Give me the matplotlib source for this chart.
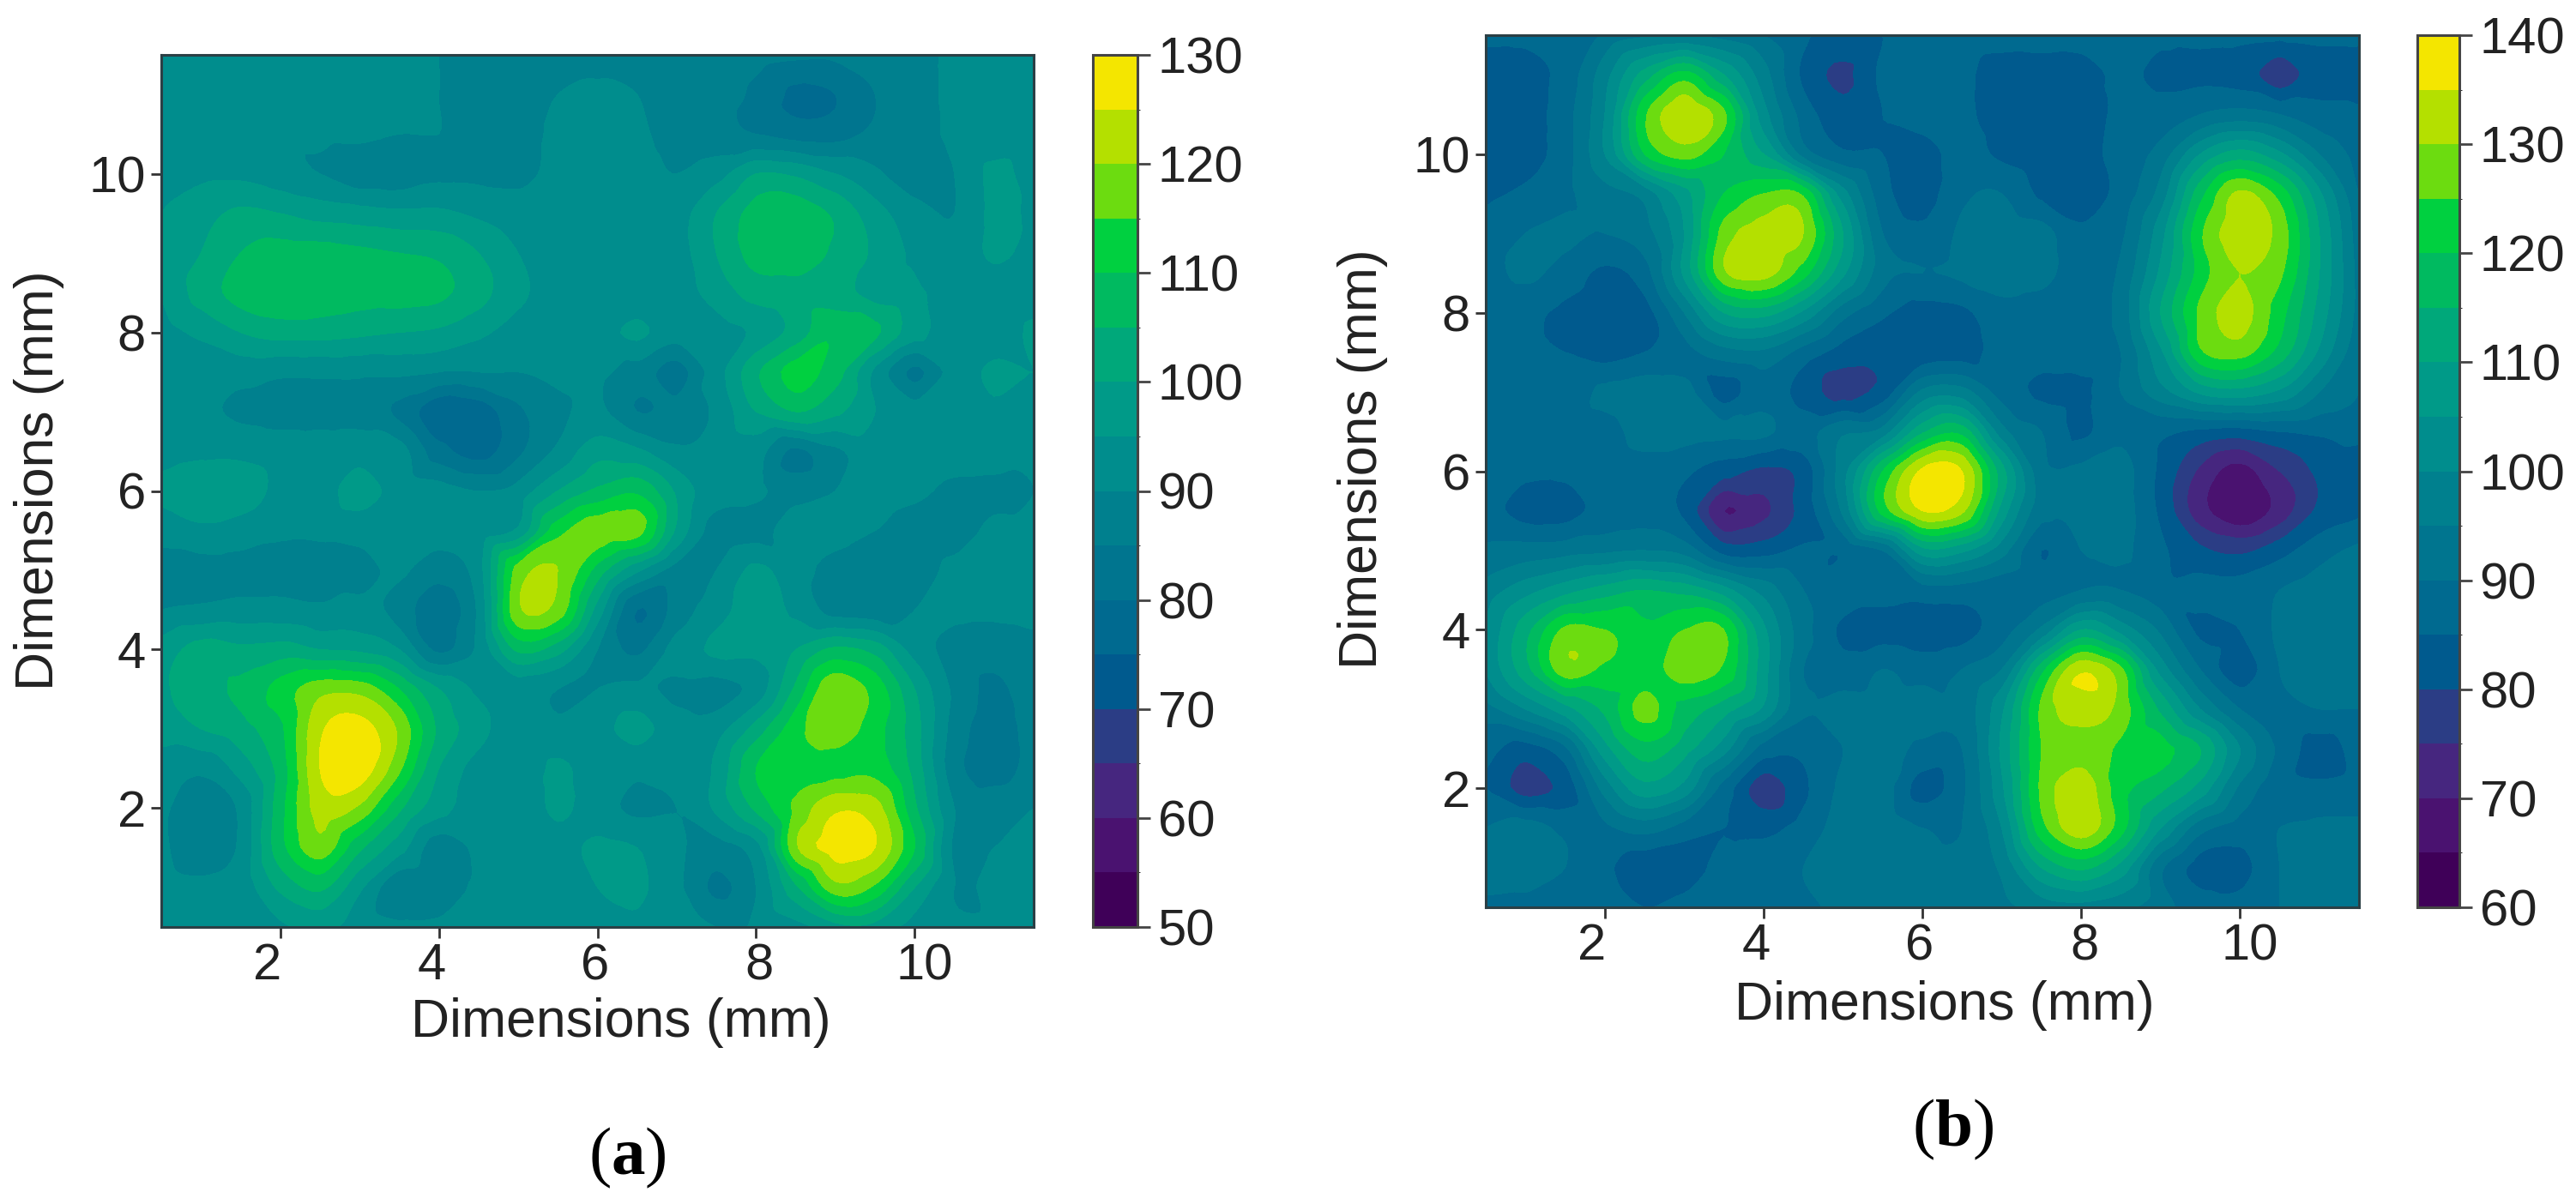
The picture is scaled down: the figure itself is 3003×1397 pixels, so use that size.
import numpy as np
import matplotlib
matplotlib.use("Agg")
import matplotlib.pyplot as plt
import matplotlib.tri as mtri
from matplotlib.colors import ListedColormap, BoundaryNorm
from matplotlib.transforms import ScaledTranslation

plt.rcParams['font.family'] = ['Liberation Sans', 'DejaVu Sans']
plt.rcParams['mathtext.fontset'] = 'custom'
plt.rcParams['mathtext.bf'] = 'Liberation Serif:bold'
plt.rcParams['mathtext.rm'] = 'Liberation Serif'

grid_mm = [0.5, 1, 1.5, 2, 2.5, 3, 3.5, 4, 4.5, 5, 5.5, 6, 6.5, 7, 7.5, 8, 8.5, 9, 9.5, 10, 10.5, 11, 11.5]
band_colors = ['#3f0058', '#4a1270', '#46267f', '#2b3d85', '#005a8e', '#006a90', '#00758f', '#00808e',
               '#008d8d', '#009a88', '#00a87a', '#00ba60', '#00d040', '#6cdc10', '#b4e000', '#f4e600']
levels_a = list(range(50, 135, 5))
levels_b = list(range(60, 145, 5))
ticks_a = [50, 60, 70, 80, 90, 100, 110, 120, 130]
ticks_b = [60, 70, 80, 90, 100, 110, 120, 130, 140]
axis_ticks = [2, 4, 6, 8, 10]
axis_label = 'Dimensions (mm)'

# rows run from y = 11.5 (first) down to y = 0.5 (last)
values_a = [
 [91,91,91,91,91,91,91,90,89,88,88,88,88,88,88,87,86,86,87,88,91,91,91],
 [91,91,91,91,91,91,91,90,88,88,90,91,90,88,87,84,79,80,85,88,91,91,91],
 [92,92,92,91,91,91,90,90,88,88,91,92,91,88,87,85,83,83,86,88,91,92,92],
 [94,94,94,92,90,87,87,89,89,89,91,92,92,90,93,100,99,95,91,87,90,96,93],
 [95,98,101,100,98,97,96,96,94,92,92,92,92,93,100,107,108,104,97,92,90,96,94],
 [95,100,105,107,107,106,105,104,100,95,93,92,92,93,100,107,108,104,99,94,91,96,93],
 [95,102,107,109,108,107,107,106,102,96,93,91,91,93,97,102,103,102,98,96,93,92,92],
 [93,96,100,102,102,101,100,99,96,93,92,93,96,92,93,96,102,109,106,97,92,92,96][:23],
 [92,92,92,91,91,91,91,90,90,90,91,91,88,83,93,104,112,107,94,84,92,96,95],
 [92,91,89,88,88,88,84,76,77,84,89,91,85,87,91,100,105,101,95,92,93,94,94],
 [93,94,94,93,93,93,92,82,78,84,91,98,96,91,92,92,84,89,93,93,92,92,91],
 [96,98,97,94,93,97,93,92,90,92,100,106,109,99,92,91,88,90,92,91,89,89,90],
 [92,94,93,91,91,92,92,92,92,96,113,118,117,99,88,88,93,92,90,88,88,91,91],
 [88,88,88,88,88,88,91,87,93,117,120,108,96,88,90,96,92,88,86,88,91,92,92],
 [90,91,92,92,91,92,88,82,91,119,118,98,80,87,93,97,94,88,87,90,91,91,92],
 [97,102,101,102,100,99,95,84,91,106,102,90,84,92,96,96,100,106,103,93,88,87,88],
 [99,103,106,112,118,118,110,100,94,92,90,90,91,89,88,92,106,119,113,100,89,84,88],
 [97,100,103,109,124,127,119,104,97,91,91,93,97,92,93,102,113,118,112,102,88,83,87],
 [93,91,97,107,125,128,116,100,93,91,96,92,91,91,96,110,112,113,113,103,87,83,87],
 [91,87,91,108,122,119,106,97,92,91,96,92,89,90,96,106,116,124,122,106,90,88,90],
 [91,87,91,108,118,106,97,87,91,92,93,96,95,91,88,93,119,127,125,110,89,90,91],
 [92,91,92,101,106,96,86,87,91,92,92,95,96,91,84,90,104,118,114,100,90,91,91],
 [92,92,92,94,96,93,91,91,92,92,92,93,94,92,90,91,93,98,98,93,91,91,92],
]
values_b = [
 [86,86,86,91,94,95,93,90,86,84,85,87,87,87,87,87,87,86,86,86,86,86,86],
 [83,83,87,98,112,122,110,97,84,79,86,87,86,83,83,83,86,84,84,83,77,83,83],
 [83,83,88,100,124,134,126,102,88,82,85,87,86,83,82,83,86,87,90,92,90,87,86],
 [83,83,88,100,120,127,120,110,93,86,85,83,87,84,82,83,87,92,105,112,106,95,88],
 [84,86,89,93,97,108,120,125,124,102,87,83,89,90,84,82,87,97,118,131,123,106,90],
 [87,90,91,90,93,105,127,132,130,110,90,86,91,93,92,86,89,103,124,133,128,110,92],
 [88,91,88,84,88,106,129,132,122,106,92,90,91,93,92,87,91,106,122,130,126,110,93],
 [86,86,84,82,83,95,110,112,104,92,86,83,84,88,87,87,92,110,126,132,122,108,93],
 [86,86,85,83,85,88,93,94,88,83,82,82,83,87,87,87,90,104,124,127,118,104,91],
 [87,87,87,91,93,92,83,88,83,78,82,96,97,88,84,84,90,98,106,108,104,95,90],
 [86,87,87,88,92,92,91,91,88,94,97,114,118,97,90,84,89,86,84,83,85,86,87],
 [87,86,86,87,88,86,82,79,82,98,120,136,135,112,92,91,92,84,74,68,75,81,82],
 [87,83,83,87,88,84,70,74,82,96,122,135,131,108,92,91,92,84,72,66,72,81,84],
 [91,92,93,94,95,93,83,83,86,86,90,108,106,97,85,90,91,86,81,79,83,88,91],
 [97,103,108,112,115,113,107,98,90,88,87,88,88,87,88,90,90,87,87,87,90,92,92],
 [100,113,126,125,121,125,125,106,92,84,83,82,83,88,96,110,103,94,84,85,91,93,92],
 [100,113,128,124,122,128,124,107,90,87,90,88,90,95,118,134,126,103,90,82,90,93,92],
 [93,100,108,116,127,118,112,104,91,92,92,92,92,104,126,132,128,114,100,90,89,90,90],
 [87,83,89,108,118,112,102,88,86,90,92,89,90,106,125,128,124,122,115,100,89,83,87],
 [85,78,82,97,108,103,88,77,84,91,92,83,89,104,126,133,122,116,108,94,87,86,87],
 [90,92,89,89,92,88,85,84,87,92,93,90,90,100,123,133,122,105,92,88,90,91,91],
 [92,93,90,86,82,82,87,87,90,92,93,92,92,96,110,116,108,91,83,83,90,92,92],
 [89,88,87,87,85,87,87,87,89,91,92,92,92,94,97,98,96,92,88,87,90,92,92],
]

W, H = 3003, 1397
fig = plt.figure(figsize=(W / 100, H / 100), dpi=100, facecolor='white')
SPINE = '#2b3f45'


def px_axes(x0, y0, x1, y1):
    return fig.add_axes([x0 / W, 1 - y1 / H, (x1 - x0) / W, (y1 - y0) / H])


def panel(values, levels, ticks, ax_box, cb_box, xlab, ylab, cap, cap_pos):
    ax = px_axes(*ax_box)
    cax = px_axes(*cb_box)
    z = np.array(values, dtype=float)[::-1]
    X, Y = np.meshgrid(grid_mm, grid_mm)
    tri = mtri.Triangulation(X.ravel(), Y.ravel())
    refiner = mtri.UniformTriRefiner(tri)
    interp = mtri.CubicTriInterpolator(tri, z.ravel(), kind='geom')
    rt, rz = refiner.refine_field(z.ravel(), triinterpolator=interp, subdiv=3)
    rz = np.clip(rz, levels[0] + 0.01, levels[-1] - 0.01)
    cmap = ListedColormap(band_colors)
    norm = BoundaryNorm(levels, cmap.N)
    cs = ax.tricontourf(rt, rz, levels=levels, cmap=cmap, norm=norm)
    ax.set_xlim(0.5, 11.5)
    ax.set_ylim(0.5, 11.5)
    ax.set_xticks(axis_ticks)
    ax.set_yticks(axis_ticks)
    ax.tick_params(axis='both', labelsize=43, length=9, width=2, color='#333333',
                   labelcolor='#222222', pad=4)
    dx = [-15, -8.5, -3, 3.5, 11.5]
    for lab, d in zip(ax.get_xticklabels(), dx):
        lab.set_transform(lab.get_transform() + ScaledTranslation(d / 100, 0, fig.dpi_scale_trans))
    for s in ax.spines.values():
        s.set_linewidth(2.2)
        s.set_color(SPINE)
    cb = fig.colorbar(cs, cax=cax, ticks=ticks)
    cb.ax.tick_params(labelsize=43, length=11, width=2, color='#444444', labelcolor='#222222', pad=6)
    cb.outline.set_linewidth(2.2)
    cb.outline.set_edgecolor('#444444')
    fig.text(xlab[0] / W, 1 - xlab[1] / H, axis_label, fontsize=45, color='#222222',
             ha='center', va='center')
    fig.text(ylab[0] / W, 1 - ylab[1] / H, axis_label, fontsize=45, color='#222222',
             rotation=90, ha='center', va='center')
    fig.text(cap_pos[0] / W, 1 - cap_pos[1] / H, '($\\mathbf{%s}$)' % cap, fontsize=57,
             family='Liberation Serif', color='black', ha='center', va='center')


panel(values_a, levels_a, ticks_a, (188, 64, 1205, 1081), (1274, 64, 1326, 1081),
      (724, 1193), (46, 560), 'a', (731, 1350))
panel(values_b, levels_b, ticks_b, (1732, 41, 2750, 1058), (2818, 41, 2867, 1058),
      (2267, 1172), (1588, 535), 'b', (2277, 1317))

fig.savefig('out.png', dpi=100, facecolor='white')
